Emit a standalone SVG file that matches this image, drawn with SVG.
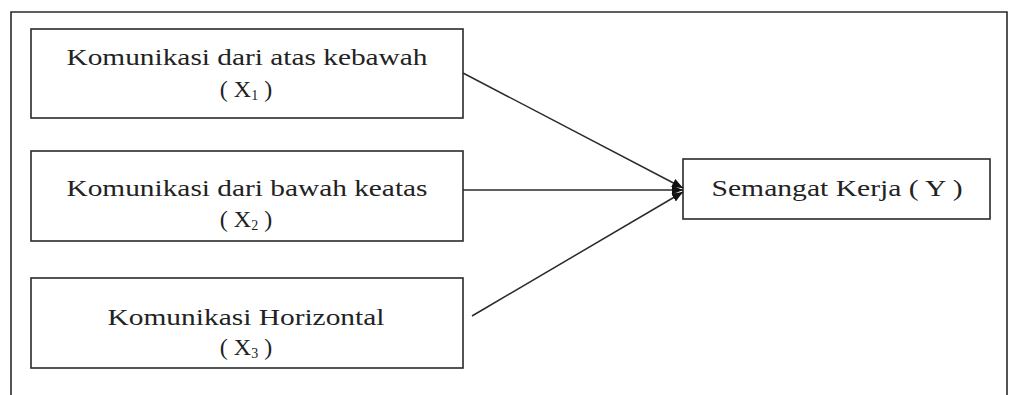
<svg xmlns="http://www.w3.org/2000/svg" width="1016" height="395" viewBox="0 0 1016 395">
<defs>
<style>
.box{fill:#fff;stroke:#2a2a2a;stroke-width:1.6}
.frame{fill:none;stroke:#2a2a2a;stroke-width:1.6}
.t{font-family:"Liberation Serif","Times New Roman",serif;font-size:24px;fill:#222;text-anchor:middle}
.sub{font-size:14px}
.edge{stroke:#2a2a2a;stroke-width:1.5;fill:none;marker-end:url(#ah)}
</style>
<marker id="ah" markerUnits="userSpaceOnUse" markerWidth="12" markerHeight="12" refX="11" refY="6" orient="auto">
<path d="M0,1.5 L11,6 L0,10.5 Z" fill="#111"/>
</marker>
</defs>
<rect width="1016" height="395" fill="#fff"/>
<path class="frame" d="M11,396 L11,12 L1007,12 L1007,396"/>
<g id="x1">
<rect class="box" x="31" y="29" width="432" height="89"/>
<text class="t" x="247" y="65" textLength="361" lengthAdjust="spacingAndGlyphs">Komunikasi dari atas kebawah</text>
<text class="t" x="246" y="97">( X<tspan class="sub" dy="3">1</tspan><tspan dy="-3"> )</tspan></text>
</g>
<g id="x2">
<rect class="box" x="31" y="151" width="432" height="90"/>
<text class="t" x="247" y="196" textLength="361" lengthAdjust="spacingAndGlyphs">Komunikasi dari bawah keatas</text>
<text class="t" x="246" y="227">( X<tspan class="sub" dy="3">2</tspan><tspan dy="-3"> )</tspan></text>
</g>
<g id="x3">
<rect class="box" x="31" y="278" width="432" height="90"/>
<text class="t" x="246" y="325" textLength="277" lengthAdjust="spacingAndGlyphs">Komunikasi Horizontal</text>
<text class="t" x="246" y="355">( X<tspan class="sub" dy="3">3</tspan><tspan dy="-3"> )</tspan></text>
</g>
<g id="y">
<rect class="box" x="683" y="159" width="307" height="60"/>
<text class="t" x="837" y="196" textLength="251" lengthAdjust="spacingAndGlyphs">Semangat Kerja ( Y )</text>
</g>
<g id="connectors">
<line class="edge" x1="463" y1="73" x2="683" y2="188"/>
<line class="edge" x1="463" y1="190" x2="683" y2="190"/>
<line class="edge" x1="472" y1="316" x2="683" y2="192"/>
</g>
</svg>
